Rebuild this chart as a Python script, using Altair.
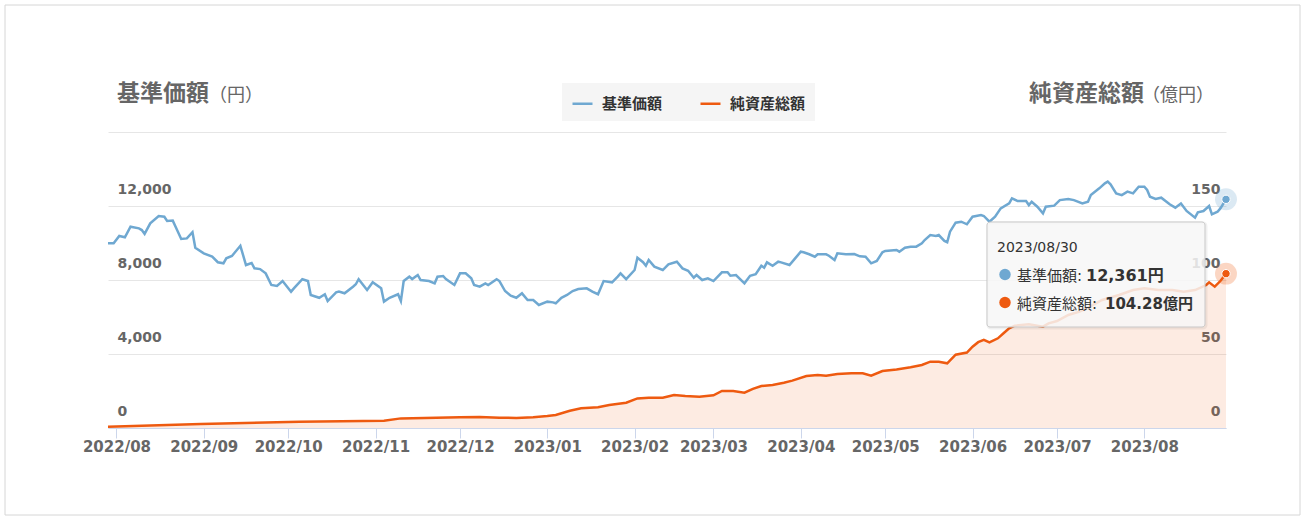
import altair as alt
import pandas as pd

# ---------------- data ----------------
nav_dates = [
    "2022-07-29", "2022-07-31", "2022-08-02", "2022-08-04", "2022-08-06", "2022-08-09", "2022-08-10",
    "2022-08-11", "2022-08-13", "2022-08-16", "2022-08-18", "2022-08-19", "2022-08-21", "2022-08-22",
    "2022-08-24", "2022-08-26", "2022-08-28", "2022-08-29", "2022-09-01", "2022-09-04", "2022-09-06",
    "2022-09-08", "2022-09-09", "2022-09-11", "2022-09-14", "2022-09-16", "2022-09-18", "2022-09-19",
    "2022-09-21", "2022-09-23", "2022-09-25", "2022-09-27", "2022-09-29", "2022-10-02", "2022-10-03",
    "2022-10-06", "2022-10-08", "2022-10-09", "2022-10-12", "2022-10-14", "2022-10-15", "2022-10-18",
    "2022-10-19", "2022-10-21", "2022-10-24", "2022-10-25", "2022-10-26", "2022-10-29", "2022-10-31",
    "2022-11-03", "2022-11-04", "2022-11-06", "2022-11-09", "2022-11-10", "2022-11-11", "2022-11-13",
    "2022-11-14", "2022-11-16", "2022-11-17", "2022-11-20", "2022-11-22", "2022-11-23", "2022-11-25",
    "2022-11-26", "2022-11-29", "2022-12-01", "2022-12-03", "2022-12-05", "2022-12-06", "2022-12-08",
    "2022-12-10", "2022-12-11", "2022-12-14", "2022-12-15", "2022-12-17", "2022-12-19", "2022-12-21",
    "2022-12-23", "2022-12-25", "2022-12-27", "2022-12-29", "2023-01-01", "2023-01-03", "2023-01-04",
    "2023-01-06", "2023-01-08", "2023-01-10", "2023-01-12", "2023-01-15", "2023-01-17", "2023-01-19",
    "2023-01-21", "2023-01-24", "2023-01-26", "2023-01-27", "2023-01-29", "2023-02-01", "2023-02-02",
    "2023-02-04", "2023-02-05", "2023-02-06", "2023-02-08", "2023-02-11", "2023-02-13", "2023-02-16",
    "2023-02-18", "2023-02-20", "2023-02-22", "2023-02-23", "2023-02-25", "2023-02-27", "2023-03-01",
    "2023-03-04", "2023-03-06", "2023-03-07", "2023-03-09", "2023-03-12", "2023-03-14", "2023-03-16",
    "2023-03-18", "2023-03-19", "2023-03-20", "2023-03-22", "2023-03-24", "2023-03-25", "2023-03-28",
    "2023-03-30", "2023-04-01", "2023-04-02", "2023-04-04", "2023-04-06", "2023-04-07", "2023-04-10",
    "2023-04-11", "2023-04-13", "2023-04-14", "2023-04-17", "2023-04-20", "2023-04-22", "2023-04-24",
    "2023-04-26", "2023-04-28", "2023-04-30", "2023-05-01", "2023-05-05", "2023-05-06", "2023-05-08",
    "2023-05-10", "2023-05-12", "2023-05-14", "2023-05-15", "2023-05-17", "2023-05-19", "2023-05-20",
    "2023-05-22", "2023-05-23", "2023-05-24", "2023-05-26", "2023-05-28", "2023-05-30", "2023-06-01",
    "2023-06-04", "2023-06-05", "2023-06-07", "2023-06-09", "2023-06-11", "2023-06-14", "2023-06-15",
    "2023-06-17", "2023-06-20", "2023-06-21", "2023-06-22", "2023-06-24", "2023-06-26", "2023-06-27",
    "2023-06-30", "2023-07-02", "2023-07-05", "2023-07-07", "2023-07-10", "2023-07-12", "2023-07-13",
    "2023-07-16", "2023-07-18", "2023-07-19", "2023-07-20", "2023-07-22", "2023-07-24", "2023-07-26",
    "2023-07-28", "2023-07-30", "2023-08-01", "2023-08-02", "2023-08-03", "2023-08-05", "2023-08-07",
    "2023-08-10", "2023-08-12", "2023-08-14", "2023-08-16", "2023-08-19", "2023-08-20", "2023-08-22",
    "2023-08-24", "2023-08-25", "2023-08-27", "2023-08-28", "2023-08-30",
]
nav_values = [
    9980, 9980, 10380, 10310, 10880, 10790, 10700,
    10490, 11060, 11460, 11420, 11190, 11210, 10880,
    10215, 10250, 10580, 9745, 9440, 9260, 8960,
    8900, 9170, 9300, 9850, 8810, 8920, 8630,
    8590, 8360, 7730, 7675, 7945, 7370, 7550,
    8040, 7945, 7190, 7040, 7230, 6860, 7335,
    7370, 7280, 7640, 7770, 8040, 7460, 7875,
    7550, 6830, 7040, 7230, 6860, 7945, 8180,
    8050, 8270, 8000, 7945, 7820, 8180, 8215,
    8050, 7730, 8360, 8360, 8090, 7730, 7640,
    7820, 7730, 8040, 7945, 7405, 7150, 7040,
    7280, 6920, 6920, 6650, 6830, 6790, 6740,
    7040, 7190, 7405, 7510, 7550, 7370, 7230,
    7945, 7875, 8180, 8360, 8050, 8540, 9205,
    8960, 8770, 9080, 8720, 8540, 8850, 8990,
    8630, 8500, 8125, 8270, 8000, 8090, 7945,
    8415, 8415, 8230, 8270, 7820, 8230, 8310,
    8770, 8665, 8955, 8770, 8990, 8955, 8810,
    9170, 9530, 9500, 9390, 9260, 9390, 9390,
    9310, 9080, 9440, 9390, 9405, 9280, 9260,
    8900, 9030, 9500, 9570, 9620, 9530, 9745,
    9800, 9800, 9980, 10160, 10430, 10380, 10430,
    10110, 10040, 10610, 11100, 11150, 11010, 11420,
    11510, 11460, 11150, 11420, 11870, 12140, 12415,
    12270, 12270, 12050, 12230, 11960, 11600, 11960,
    12020, 12320, 12380, 12320, 12140, 12230, 12590,
    12955, 13225, 13315, 13170, 12685, 12590, 12775,
    12685, 13045, 13045, 12865, 12500, 12380, 12450,
    12090, 11910, 12140, 11730, 11370, 11655, 11730,
    12000, 11550, 11690, 11870, 12361,
]

aum_dates = [
    "2022-07-29", "2022-08-31", "2022-10-05", "2022-11-04", "2022-11-10", "2022-12-01", "2022-12-08",
    "2022-12-15", "2022-12-21", "2022-12-27", "2023-01-01", "2023-01-04", "2023-01-09", "2023-01-13",
    "2023-01-19", "2023-01-23", "2023-01-29", "2023-02-02", "2023-02-06", "2023-02-11", "2023-02-15",
    "2023-02-19", "2023-02-24", "2023-03-01", "2023-03-04", "2023-03-08", "2023-03-12", "2023-03-15",
    "2023-03-18", "2023-03-22", "2023-03-26", "2023-03-29", "2023-04-03", "2023-04-07", "2023-04-10",
    "2023-04-14", "2023-04-19", "2023-04-23", "2023-04-26", "2023-04-30", "2023-05-05", "2023-05-10",
    "2023-05-14", "2023-05-17", "2023-05-20", "2023-05-23", "2023-05-26", "2023-05-30", "2023-06-01",
    "2023-06-03", "2023-06-05", "2023-06-07", "2023-06-10", "2023-06-12", "2023-06-14", "2023-06-16",
    "2023-06-21", "2023-06-26", "2023-06-28", "2023-07-01", "2023-07-05", "2023-07-09", "2023-07-12",
    "2023-07-17", "2023-07-23", "2023-07-28", "2023-08-01", "2023-08-06", "2023-08-11", "2023-08-15",
    "2023-08-19", "2023-08-23", "2023-08-24", "2023-08-26", "2023-08-28", "2023-08-30",
]
aum_values = [
    0.9, 2.7, 4.3, 4.9, 6.5, 7.2, 7.4,
    7.0, 6.8, 7.2, 8.1, 8.8, 11.7, 13.3,
    14.0, 15.5, 17.1, 20.0, 20.5, 20.5, 22.3,
    21.6, 21.2, 22.1, 25.0, 25.0, 23.9, 26.4,
    28.4, 29.1, 30.6, 32.0, 35.1, 35.8, 35.3,
    36.5, 37.0, 37.0, 35.3, 38.5, 39.6, 41.0,
    42.6, 44.8, 44.8, 43.7, 49.5, 51.0, 54.9,
    58.0, 59.5, 57.8, 60.6, 64.0, 67.4, 69.1,
    70.1, 68.5, 70.7, 72.3, 76.4, 78.6, 81.3,
    86.5, 89.9, 93.2, 94.4, 93.2, 93.2, 92.1,
    93.2, 96.6, 98.4, 95.5, 99.3, 104.28,
]

series_names = ["基準価額", "純資産総額"]
series_units = ["円", "億円"]
series_colors = ["#6fa8d1", "#ee5a10"]
month_labels = ["2022/08", "2022/09", "2022/10", "2022/11", "2022/12", "2023/01", "2023/02",
                "2023/03", "2023/04", "2023/05", "2023/06", "2023/07", "2023/08"]
nav_ticks = [0, 4000, 8000, 12000, 16000]
aum_ticks = [0, 50, 100, 150, 200]

# ---------------- style ----------------
LATIN = "DejaVu Sans, Noto Sans CJK JP"
JP = "Noto Sans CJK JP"
W, H = 1118, 296
PAD = {"left": 108, "top": 132, "right": 79, "bottom": 92}


def dt(s):
    y, m, d = s.split("-")
    return alt.DateTime(year=int(y), month=int(m), date=int(d))


nav_df = pd.DataFrame({"date": pd.to_datetime(nav_dates), "value": nav_values, "series": series_names[0]})
aum_df = pd.DataFrame({"date": pd.to_datetime(aum_dates), "value": aum_values, "series": series_names[1]})

x_enc = alt.X(
    "date:T",
    scale=alt.Scale(domain=[dt(nav_dates[0]), dt(nav_dates[-1])]),
    axis=alt.Axis(
        values=[alt.DateTime(year=int(l[:4]), month=int(l[5:]), date=1) for l in month_labels],
        format="%Y/%m", title=None, grid=False, labelFlush=False, labelOverlap=False,
        labelFont=LATIN, labelFontSize=15, labelFontWeight="bold", labelColor="#666666",
        domainColor="#ccd6eb", domainWidth=1, tickColor="#ccd6eb", tickSize=10, labelPadding=1,
    ),
)

nav_y = alt.Y(
    "value:Q",
    scale=alt.Scale(domain=[nav_ticks[0], nav_ticks[-1]]),
    axis=alt.Axis(
        orient="left", values=nav_ticks, title=None, grid=True, gridColor="#e6e6e6",
        domain=False, ticks=False, tickSize=0,
        labelExpr="datum.value >= 16000 ? '' : format(datum.value, ',')",
        labelAlign="left", labelPadding=-9, labelBaseline="alphabetic", labelOffset=-13,
        labelFont=LATIN, labelFontSize=14, labelFontWeight="bold", labelColor="#666666",
    ),
)
aum_y = alt.Y(
    "value:Q",
    scale=alt.Scale(domain=[aum_ticks[0], aum_ticks[-1]]),
    axis=alt.Axis(
        orient="right", values=aum_ticks, title=None, grid=False,
        domain=False, ticks=False, tickSize=0,
        labelExpr="datum.value >= 200 ? '' : datum.label",
        labelAlign="right", labelPadding=-6, labelBaseline="alphabetic", labelOffset=-13,
        labelFont=LATIN, labelFontSize=14, labelFontWeight="bold", labelColor="#666666",
    ),
)

color_enc = alt.Color(
    "series:N",
    scale=alt.Scale(domain=series_names, range=series_colors),
    legend=alt.Legend(
        orient="none", legendX=454, legendY=-49, direction="horizontal", title=None,
        fillColor="#f5f5f5", padding=9, symbolType="stroke", symbolSize=400,
        symbolStrokeWidth=2.5, labelFont=JP, labelFontSize=15, labelFontWeight="bold",
        labelColor="#333333", columnPadding=32, labelOffset=8,
    ),
)

aum_area = alt.Chart(aum_df).mark_area(color=series_colors[1], opacity=0.12).encode(x=x_enc, y=aum_y)
aum_line = alt.Chart(aum_df).mark_line(strokeWidth=2.5).encode(x=x_enc, y=aum_y, color=color_enc)
aum_halo = alt.Chart(aum_df.tail(1)).mark_circle(size=480, opacity=0.25, color=series_colors[1]).encode(x=x_enc, y=aum_y)
aum_pt = alt.Chart(aum_df.tail(1)).mark_point(filled=True, size=70, fill=series_colors[1], stroke="white",
                                               strokeWidth=1, opacity=1).encode(x=x_enc, y=aum_y)
aum_layer = alt.layer(aum_area, aum_line, aum_halo, aum_pt)

nav_line = alt.Chart(nav_df).mark_line(strokeWidth=2.5).encode(x=x_enc, y=nav_y, color=color_enc)
nav_halo = alt.Chart(nav_df.tail(1)).mark_circle(size=480, opacity=0.25, color=series_colors[0]).encode(x=x_enc, y=nav_y)
nav_pt = alt.Chart(nav_df.tail(1)).mark_point(filled=True, size=70, fill=series_colors[0], stroke="white",
                                              strokeWidth=1, opacity=1).encode(x=x_enc, y=nav_y)
nav_layer = alt.layer(nav_line, nav_halo, nav_pt)

# ---------------- decorations: frame, titles, tooltip ----------------
one = pd.DataFrame({"k": [0]})


def text_at(txt, x, y, size, weight="normal", color="#333333", font=LATIN):
    return alt.Chart(one).mark_text(
        text=txt, fontSize=size, fontWeight=weight, color=color, font=font,
        align="left", baseline="alphabetic",
    ).encode(x=alt.value(x), y=alt.value(y))


frame = alt.Chart(one).mark_rect(fillOpacity=0, stroke="#d6d6d6", strokeWidth=1).encode(
    x=alt.value(-103), x2=alt.value(1192), y=alt.value(-127), y2=alt.value(383))

title_l1 = text_at(series_names[0], 9, -31, 23, "bold", "#666666", JP)
title_l2 = text_at("（" + series_units[0] + "）", 101, -31, 18, "normal", "#666666", JP)
title_r1 = text_at(series_names[1], 921, -31, 23, "bold", "#666666", JP)
title_r2 = text_at("（" + series_units[1] + "）", 1034, -31, 18, "normal", "#666666", JP)

tip_shadow = alt.Chart(one).mark_rect(fillOpacity=0, stroke="#000000", strokeOpacity=0.06, strokeWidth=3,
                                      cornerRadius=3).encode(
    x=alt.value(880), x2=alt.value(1098), y=alt.value(91), y2=alt.value(196))
tip_box = alt.Chart(one).mark_rect(fill="#f7f7f7", fillOpacity=0.85, stroke="#c9c9c9", strokeWidth=1,
                                   cornerRadius=3).encode(
    x=alt.value(879), x2=alt.value(1097), y=alt.value(90), y2=alt.value(195))
tip_date = text_at(nav_dates[-1].replace("-", "/"), 889, 120, 14, "normal", "#333333")
tip_dot1 = alt.Chart(one).mark_circle(size=130, opacity=1, color=series_colors[0]).encode(
    x=alt.value(897), y=alt.value(142.5))
tip_dot2 = alt.Chart(one).mark_circle(size=130, opacity=1, color=series_colors[1]).encode(
    x=alt.value(897), y=alt.value(170.5))
tip_l1 = text_at(series_names[0] + ": ", 909, 149, 15, "normal", "#333333")
tip_v1 = text_at(f"{nav_values[-1]:,}" + series_units[0], 978, 149, 16, "bold", "#333333")
tip_l2 = text_at(series_names[1] + ": ", 909, 177, 15, "normal", "#333333")
tip_v2 = text_at(f"{aum_values[-1]:.2f}" + series_units[1], 997, 177, 15, "bold", "#333333")

chart = alt.layer(
    frame, aum_layer, nav_layer,
    title_l1, title_l2, title_r1, title_r2,
    tip_shadow, tip_box, tip_date, tip_dot1, tip_dot2, tip_l1, tip_v1, tip_l2, tip_v2,
).resolve_scale(y="independent").properties(
    width=W, height=H, padding=PAD, autosize=alt.AutoSizeParams(type="none"), background="white",
).configure_view(strokeWidth=0)

chart.save("out.html", embed_options={"renderer": "svg", "actions": False})
